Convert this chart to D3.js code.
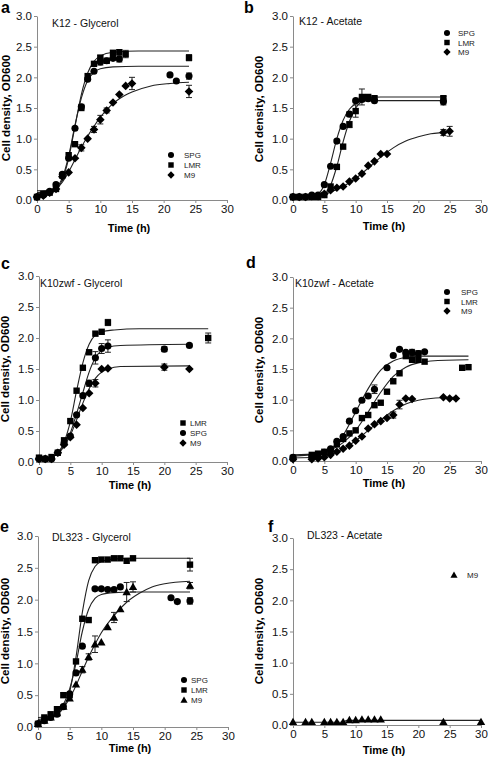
<!DOCTYPE html>
<html>
<head>
<meta charset="utf-8">
<script src="https://cdn.jsdelivr.net/npm/d3@7"></script>
<style>
html,body{margin:0;padding:0;background:#fff;}
svg{display:block;font-family:"Liberation Sans",Arial,Helvetica,sans-serif;}
</style>
</head>
<body>
<svg id="chart" width="488" height="758"></svg>
<script>
// ---------------- DATA (time h, OD600, error) ----------------
const xTicks = [0, 5, 10, 15, 20, 25, 30];
const yTicks = [0, 0.5, 1.0, 1.5, 2.0, 2.5, 3.0];
const panelLetters = ["a", "b", "c", "d", "e", "f"];
const panelTitles = ["K12 - Glycerol", "K12 - Acetate", "K10zwf - Glycerol", "K10zwf - Acetate", "DL323 - Glycerol", "DL323 - Acetate"];

// a: K12 - Glycerol
const aSPG = [[0,0.05],[1,0.08],[2,0.14],[3,0.25],[4,0.42],[5,0.68],[6,1.17],[7,1.52,0.04],[8,1.97],[9,2.10],[10,2.25,0.05],[11,2.27],[12,2.31],[13,2.30,0.05],[21,2.04],[22,1.94],[24,2.02,0.05]];
const aLMR = [[0,0.05],[1,0.10],[2,0.12],[3,0.18],[4,0.40],[5,0.73],[6,0.91],[7,1.50],[8,2.02],[9,2.22],[10,2.32,0.04],[11,2.27],[12,2.40],[13,2.41],[14,2.38,0.06],[24,2.32,0.05]];
const aM9  = [[0,0.05],[1,0.07],[2,0.12],[3,0.18],[4,0.38],[5,0.45],[6,0.68],[7,0.85,0.05],[8,1.00],[9,1.15,0.05],[10,1.31,0.07],[11,1.46,0.04],[12,1.59],[13,1.72],[14,1.86],[15,1.90,0.1],[24,1.77,0.1]];
const aSPGfit = [[0,0.10],[2,0.13],[3,0.19],[4,0.36],[5,0.72],[6,1.22],[7,1.66],[8,1.95],[9,2.08],[10,2.14],[12,2.17],[16,2.18],[24,2.18]];
const aLMRfit = [[0,0.15],[2,0.16],[3,0.18],[4,0.33],[5,0.68],[6,1.20],[7,1.72],[8,2.07],[9,2.26],[10,2.35],[12,2.41],[16,2.43],[24,2.43]];
const aM9fit  = [[0,0.12],[2,0.14],[3,0.18],[4,0.29],[5,0.46],[6,0.66],[7,0.86],[8,1.04],[9,1.20],[10,1.35],[11,1.47],[12,1.57],[13,1.65],[15,1.76],[18,1.86],[21,1.90],[24,1.92]];

// b: K12 - Acetate
const bSPG = [[0,0.05],[1,0.05],[2,0.05],[3,0.08],[4,0.08],[5,0.25],[6,0.55],[7,0.96,0.03],[8,1.20],[9,1.40,0.04],[10,1.62],[11,1.64],[12,1.65],[13,1.62],[24,1.60,0.05]];
const bLMR = [[0,0.05],[1,0.05],[2,0.05],[3,0.05],[4,0.05],[5,0.08],[6,0.22],[7,0.54],[8,0.87],[9,1.23,0.05],[10,1.45,0.1],[11,1.68,0.13],[12,1.68],[13,1.66,0.03],[24,1.66,0.03]];
const bM9  = [[0,0.05],[1,0.05],[2,0.05],[3,0.06],[4,0.06],[5,0.10],[6,0.16],[7,0.20],[8,0.22],[9,0.30],[10,0.35],[11,0.43],[12,0.56],[13,0.63],[14,0.75],[15,0.75],[24,1.10,0.05],[25,1.12,0.08]];
const bSPGfit = [[0,0.05],[3,0.06],[4,0.10],[5,0.25],[6,0.60],[7,1.00],[8,1.30],[9,1.48],[10,1.57],[11,1.61],[12,1.62],[24,1.62]];
const bLMRfit = [[0,0.05],[4,0.05],[5,0.09],[6,0.24],[7,0.55],[8,0.95],[9,1.28],[10,1.50],[11,1.61],[12,1.66],[14,1.68],[24,1.68]];
const bM9fit  = [[0,0.05],[4,0.07],[6,0.13],[8,0.22],[10,0.35],[12,0.52],[14,0.70],[16,0.85],[18,0.96],[20,1.03],[22,1.08],[24,1.10],[25,1.11]];

// c: K10zwf - Glycerol
const cLMR = [[0,0.07],[1,0.05],[2,0.08],[3,0.15],[4,0.35],[5,0.66],[6,1.15],[7,1.52],[8,1.77],[9,2.07],[10,2.10],[11,2.25,0.05],[27,2.00,0.08]];
const cSPG = [[0,0.05],[1,0.05],[2,0.05],[3,0.15],[4,0.30],[5,0.42],[6,0.76],[7,1.07],[8,1.27,0.05],[9,1.68,0.1],[10,1.83,0.08],[11,1.87,0.1],[20,1.82,0.04],[24,1.88,0.02]];
const cM9  = [[0,0.05],[1,0.05],[2,0.05],[3,0.15],[4,0.28],[5,0.40],[6,0.60],[7,0.87],[8,1.11],[9,1.27,0.06],[10,1.50],[11,1.51],[20,1.53,0.05],[24,1.50]];
const cLMRfit = [[0,0.05],[2,0.08],[3,0.15],[4,0.32],[5,0.65],[6,1.15],[7,1.60],[8,1.90],[9,2.05],[10,2.10],[12,2.13],[16,2.15],[27,2.15]];
const cSPGfit = [[0,0.05],[2,0.08],[3,0.14],[4,0.27],[5,0.47],[6,0.78],[7,1.12],[8,1.45],[9,1.68],[10,1.80],[11,1.85],[13,1.88],[24,1.90]];
const cM9fit  = [[0,0.05],[2,0.08],[3,0.13],[4,0.25],[5,0.43],[6,0.68],[7,0.95],[8,1.18],[9,1.35],[10,1.45],[11,1.50],[13,1.54],[24,1.55]];

// d: K10zwf - Acetate
const dSPG = [[0,0.06],[3,0.08],[4,0.10],[5,0.14],[6,0.20],[7,0.32],[8,0.40],[9,0.65],[10,0.82],[11,0.99],[12,1.06],[13,1.17,0.07],[15,1.52],[16,1.72],[17,1.82],[18,1.77],[19,1.77,0.05],[20,1.75,0.05],[21,1.78]];
const dLMR = [[0,0.05],[3,0.10],[4,0.12],[5,0.15],[6,0.15],[7,0.27],[8,0.36],[9,0.45],[10,0.50],[11,0.70],[12,0.75],[13,0.91],[14,0.95],[15,1.13],[16,1.30],[17,1.43],[18,1.71],[19,1.65],[20,1.65],[21,1.62],[27,1.52],[28,1.53]];
const dM9  = [[0,0.03],[3,0.03],[4,0.04],[5,0.06],[6,0.10],[7,0.15],[8,0.20],[9,0.25],[10,0.33],[11,0.40],[12,0.53],[13,0.60],[14,0.65],[15,0.70],[16,0.75,0.05],[17,0.92,0.07],[18,1.02],[19,1.01],[24,1.04],[25,1.02],[26,1.02]];
const dSPGfit = [[0,0.08],[4,0.12],[6,0.20],[8,0.42],[10,0.80],[12,1.18],[14,1.48],[16,1.63],[18,1.69],[20,1.71],[28,1.71]];
const dLMRfit = [[0,0.10],[4,0.12],[6,0.18],[8,0.30],[10,0.50],[12,0.80],[14,1.12],[16,1.38],[18,1.53],[20,1.60],[22,1.63],[28,1.65]];
const dM9fit  = [[0,0.05],[4,0.06],[6,0.10],[8,0.20],[10,0.33],[12,0.50],[14,0.67],[16,0.82],[18,0.93],[20,0.99],[22,1.02],[26,1.04]];

// e: DL323 - Glycerol
const eSPG = [[0,0.05],[1,0.10],[2,0.15],[3,0.20],[4,0.32],[5,0.52],[6,0.85],[7,1.27],[9,2.17],[10,2.17],[11,2.16],[12,2.16],[13,2.20],[21,2.03],[22,1.97],[24,1.98,0.05]];
const eLMR = [[0,0.05],[1,0.15],[2,0.20],[3,0.28],[4,0.50],[5,0.50],[6,1.03],[7,1.70],[8,1.68],[9,2.62],[10,2.63],[11,2.63],[12,2.65],[13,2.65],[14,2.61],[15,2.65],[24,2.55,0.1]];
const eM9  = [[0,0.05],[1,0.10],[2,0.15],[3,0.22],[4,0.32],[5,0.45],[6,0.67],[7,0.90,0.05],[8,1.10,0.05],[9,1.30,0.13],[10,1.33],[11,1.57],[12,1.72,0.08],[13,1.85],[14,2.12,0.15],[15,2.20,0.08],[24,2.22,0.05]];
const eLMRfit = [[0,0.15],[2,0.17],[3,0.20],[4,0.30],[5,0.55],[6,1.10],[7,1.80],[8,2.30],[9,2.52],[10,2.60],[12,2.64],[15,2.65],[24,2.65]];
const eSPGfit = [[0,0.12],[2,0.15],[3,0.20],[4,0.35],[5,0.60],[6,1.00],[7,1.50],[8,1.85],[9,2.02],[10,2.08],[12,2.11],[15,2.12],[24,2.12]];
const eM9fit  = [[0,0.10],[2,0.14],[3,0.20],[4,0.30],[5,0.45],[6,0.65],[7,0.88],[8,1.10],[9,1.30],[10,1.48],[12,1.75],[14,1.96],[16,2.10],[18,2.20],[20,2.25],[24,2.29]];

// f: DL323 - Acetate
const fM9 = [[0,0.05],[2,0.05],[3,0.05],[5,0.05],[6,0.05],[7,0.05],[8,0.05],[9,0.08],[10,0.08],[11,0.09],[12,0.09],[13,0.09],[14,0.09],[24,0.05],[30,0.05]];
const fM9fit = [[0,0.045],[8,0.045],[8.6,0.075],[30,0.075]];

// ---------------- LAYOUT ----------------
const layout = [
  {x0:37, x1:227, y0:200, y1:16, letter:[1,13], title:[52,27], ytitle:[10,108], xtitleY:232, legend:[171,184,155,10]},
  {x0:293, x1:481, y0:200, y1:16, letter:[244,13], title:[299,25], ytitle:[263,109], xtitleY:230, legend:[447,458,33,9.5]},
  {x0:39, x1:227, y0:462, y1:276, letter:[1,269], title:[40,287], ytitle:[9,369], xtitleY:489, legend:[183,190,423,10]},
  {x0:293, x1:481, y0:461, y1:277, letter:[246,268], title:[295,287], ytitle:[263,370], xtitleY:487, legend:[447,461,292,9.5]},
  {x0:38, x1:228, y0:727, y1:536, letter:[0,532], title:[52,541], ytitle:[9,631], xtitleY:752, legend:[184,191,680,10]},
  {x0:293, x1:481, y0:725, y1:538, letter:[268,532], title:[307,539], ytitle:[263,631], xtitleY:754, legend:[454,467,575,10]}
];

const panels = [
  {series:[{name:"SPG",sym:"circle",pts:aSPG,fit:aSPGfit},{name:"LMR",sym:"square",pts:aLMR,fit:aLMRfit},{name:"M9",sym:"diamond",pts:aM9,fit:aM9fit}]},
  {series:[{name:"SPG",sym:"circle",pts:bSPG,fit:bSPGfit},{name:"LMR",sym:"square",pts:bLMR,fit:bLMRfit},{name:"M9",sym:"diamond",pts:bM9,fit:bM9fit}]},
  {series:[{name:"LMR",sym:"square",pts:cLMR,fit:cLMRfit},{name:"SPG",sym:"circle",pts:cSPG,fit:cSPGfit},{name:"M9",sym:"diamond",pts:cM9,fit:cM9fit}]},
  {series:[{name:"SPG",sym:"circle",pts:dSPG,fit:dSPGfit},{name:"LMR",sym:"square",pts:dLMR,fit:dLMRfit},{name:"M9",sym:"diamond",pts:dM9,fit:dM9fit}]},
  {series:[{name:"SPG",sym:"circle",pts:eSPG,fit:eSPGfit},{name:"LMR",sym:"square",pts:eLMR,fit:eLMRfit},{name:"M9",sym:"triangle",pts:eM9,fit:eM9fit}]},
  {series:[{name:"M9",sym:"triangle",pts:fM9,fit:fM9fit}]}
];

// ---------------- DRAW ----------------
const svg = d3.select("#chart");
const AXIS_COLOR = "#8a8a8a";

function symbolPath(sym, s) {
  s = s || 1;
  if (sym === "circle") return d3.symbol(d3.symbolCircle, 40 * s * s)();
  if (sym === "square") { const h = 3.2 * s; return `M${-h},${-h}H${h}V${h}H${-h}Z`; }
  if (sym === "diamond") { const h = 4.3 * s; return `M0,${-h}L${h},0L0,${h}L${-h},0Z`; }
  if (sym === "triangle") { const h = 4.2 * s; return `M0,${-h}L${h},${h*0.75}L${-h},${h*0.75}Z`; }
}

panels.forEach((p, i) => {
  const L = layout[i];
  const x = d3.scaleLinear().domain([0, 30]).range([L.x0, L.x1]);
  const y = d3.scaleLinear().domain([0, 3]).range([L.y0, L.y1]);
  const g = svg.append("g");

  // axes
  const ya = g.append("g").attr("transform", `translate(${L.x0},0)`)
    .call(d3.axisLeft(y).tickValues(yTicks).tickFormat(d3.format(".1f")).tickSize(3).tickSizeOuter(0).tickPadding(2));
  const xa = g.append("g").attr("transform", `translate(0,${L.y0})`)
    .call(d3.axisBottom(x).tickValues(xTicks).tickFormat(d3.format("d")).tickSize(3).tickSizeOuter(0).tickPadding(2));
  [ya, xa].forEach(a => {
    a.select(".domain").attr("stroke", AXIS_COLOR).attr("stroke-width", 1);
    a.selectAll(".tick line").attr("stroke", AXIS_COLOR);
    a.selectAll(".tick text").attr("fill", "#111").style("font-size", "11.5px").style("font-family", "Liberation Sans, Arial, sans-serif");
  });

  // fit curves
  const line = d3.line().x(d => x(d[0])).y(d => y(d[1])).curve(d3.curveMonotoneX);
  p.series.forEach(s => {
    g.append("path").datum(s.fit).attr("d", line)
      .attr("fill", "none").attr("stroke", "#222").attr("stroke-width", 1.1);
  });

  // error bars
  p.series.forEach(s => {
    s.pts.filter(d => d[2]).forEach(d => {
      const cx = x(d[0]), yt = y(d[1] + d[2]), yb = y(d[1] - d[2]);
      g.append("line").attr("x1", cx).attr("x2", cx).attr("y1", yt).attr("y2", yb).attr("stroke", "#222").attr("stroke-width", 1);
      g.append("line").attr("x1", cx - 3).attr("x2", cx + 3).attr("y1", yt).attr("y2", yt).attr("stroke", "#222").attr("stroke-width", 1);
      g.append("line").attr("x1", cx - 3).attr("x2", cx + 3).attr("y1", yb).attr("y2", yb).attr("stroke", "#222").attr("stroke-width", 1);
    });
  });

  // points
  p.series.forEach(s => {
    g.selectAll(null).data(s.pts).enter().append("path")
      .attr("d", symbolPath(s.sym))
      .attr("transform", d => `translate(${x(d[0])},${y(d[1])})`)
      .attr("fill", "#000");
  });

  // legend
  const [mx, tx, ly, dy] = L.legend;
  p.series.forEach((s, k) => {
    g.append("path").attr("d", symbolPath(s.sym, 0.85)).attr("transform", `translate(${mx},${ly + k * dy})`).attr("fill", "#000");
    g.append("text").attr("x", tx).attr("y", ly + k * dy + 3).text(s.name)
      .style("font-size", "8px").attr("fill", "#222");
  });

  // titles
  g.append("text").attr("x", L.title[0]).attr("y", L.title[1]).text(panelTitles[i])
    .style("font-size", "10.5px").attr("fill", "#111");
  g.append("text").attr("x", L.letter[0]).attr("y", L.letter[1]).text(panelLetters[i])
    .style("font-size", "16px").style("font-weight", "bold");
  g.append("text").attr("transform", `translate(${L.ytitle[0]},${L.ytitle[1]}) rotate(-90)`)
    .attr("text-anchor", "middle").text("Cell density, OD600")
    .style("font-size", "11.5px").style("font-weight", "bold");
  g.append("text").attr("x", (L.x0 + L.x1) / 2 - 3).attr("y", L.xtitleY).attr("text-anchor", "middle")
    .text("Time (h)").style("font-size", "11px").style("font-weight", "bold");
});
</script>
</body>
</html>
